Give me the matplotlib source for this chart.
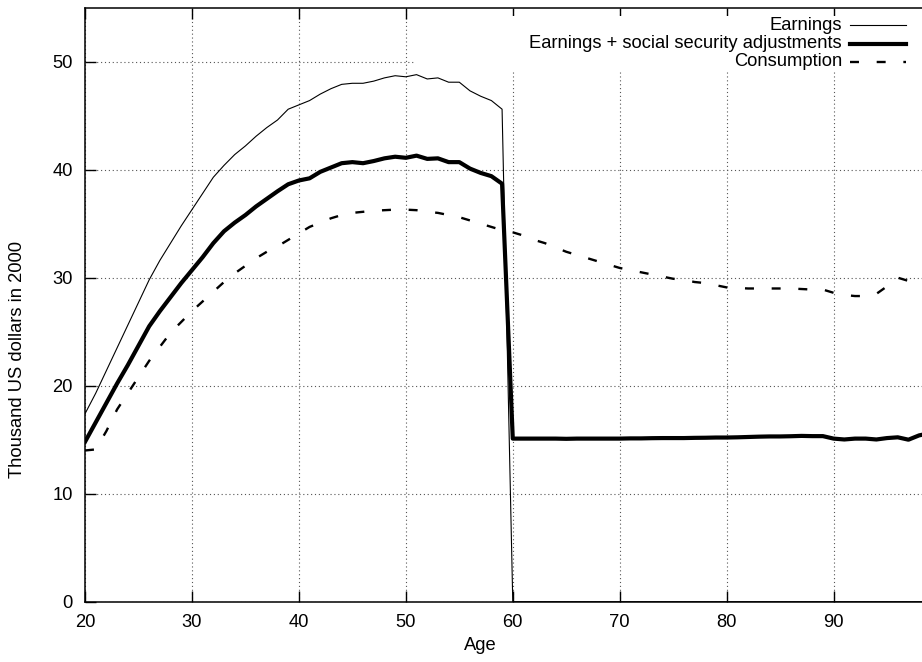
import matplotlib
matplotlib.use("Agg")
import matplotlib.pyplot as plt
from matplotlib.lines import Line2D
from matplotlib.patches import Rectangle

plt.rcParams['font.family'] = ['Liberation Sans', 'DejaVu Sans']

# Data (thousand US dollars in 2000)
ages = list(range(20, 100))

earnings = [17.4, 19.3, 21.4, 23.5, 25.6, 27.7, 29.8, 31.6, 33.2, 34.8,
            36.3, 37.8, 39.3, 40.4, 41.4, 42.2, 43.1, 43.9, 44.6, 45.6,
            46.0, 46.4, 47.0, 47.5, 47.9, 48.0, 48.0, 48.2, 48.5, 48.7,
            48.6, 48.8, 48.4, 48.5, 48.1, 48.1, 47.3, 46.8, 46.4, 45.6] + [0.0] * 40

earnings_ss = [14.8, 16.6, 18.4, 20.2, 21.9, 23.7, 25.5, 26.9, 28.2, 29.5,
               30.7, 31.9, 33.2, 34.3, 35.1, 35.8, 36.6, 37.3, 38.0, 38.65,
               39.0, 39.2, 39.8, 40.2, 40.6, 40.7, 40.6, 40.8, 41.05, 41.2,
               41.1, 41.3, 41.0, 41.05, 40.7, 40.7, 40.1, 39.7, 39.4, 38.7,
               15.1, 15.1, 15.1, 15.1, 15.1, 15.08, 15.1, 15.1, 15.1, 15.1,
               15.1, 15.12, 15.12, 15.14, 15.15, 15.15, 15.15, 15.17, 15.18, 15.2,
               15.2, 15.22, 15.25, 15.28, 15.3, 15.3, 15.32, 15.35, 15.33, 15.33,
               15.1, 15.02, 15.1, 15.1, 15.02, 15.15, 15.22, 15.0, 15.4, 15.6]

consumption = [14.0, 14.1, 15.8, 17.8, 19.3, 20.8, 22.3, 23.6, 24.9, 25.9,
               26.9, 27.8, 28.7, 29.6, 30.4, 31.1, 31.8, 32.4, 32.9, 33.5,
               34.1, 34.7, 35.1, 35.5, 35.8, 36.0, 36.1, 36.2, 36.25, 36.3,
               36.3, 36.25, 36.1, 36.0, 35.8, 35.6, 35.3, 35.0, 34.7, 34.4,
               34.2, 33.9, 33.5, 33.2, 32.8, 32.4, 32.1, 31.8, 31.5, 31.2,
               30.9, 30.7, 30.5, 30.3, 30.1, 29.9, 29.8, 29.6, 29.5, 29.3,
               29.1, 29.05, 29.0, 29.0, 29.0, 29.0, 29.0, 28.95, 28.9, 28.9,
               28.6, 28.4, 28.3, 28.3, 28.5, 29.2, 30.0, 29.7, 29.3, 29.0]

labels = ["Earnings", "Earnings + social security adjustments", "Consumption"]

dash = (0, (3.8, 7.5))
styles = [dict(lw=0.8, ls='-'), dict(lw=3.0, ls='-'), dict(lw=1.7, ls=dash)]

fig = plt.figure(figsize=(9.22, 6.62), dpi=100)
# plot area runs past the right edge of the picture, as in the reference
ax = fig.add_axes([0.0922, 0.0911, 0.9279, 0.8973])

ax.set_xlim(20, 100)
ax.set_ylim(0, 55)
ax.set_xticks(range(20, 91, 10))
ax.set_yticks(range(0, 51, 10))
ax.tick_params(direction='in', length=8, width=1, top=True, right=False,
               labelsize=13.2, pad=9)
for side in ['left', 'bottom', 'top']:
    ax.spines[side].set_linewidth(1.1)
ax.spines['right'].set_visible(False)

ax.set_axisbelow(True)
ax.grid(True, color='#555555', linestyle=(0, (1, 2.5)), linewidth=0.8)

# blank area behind the key, like gnuplot does
ax.add_patch(Rectangle((50.9, 49.05), 60, 5.2, facecolor='white',
                       edgecolor='none', zorder=1))

for series, st in zip([earnings, earnings_ss, consumption], styles):
    ax.plot(ages, series, color='black', lw=st['lw'], linestyle=st['ls'],
            zorder=3, solid_joinstyle='round')

# key, text right aligned with the sample on its right
key_y = [25, 43.5, 62]
for lab, st, ypx in zip(labels, styles, key_y):
    yf = 1 - ypx / 662
    fig.text(842 / 922, yf, lab, ha='right', va='center', fontsize=13.2)
    fig.add_artist(Line2D([850 / 922, 906 / 922], [yf, yf], color='black',
                          lw=st['lw'], linestyle=st['ls']))

fig.text(480 / 922, 1 - 645 / 662, "Age", ha='center', va='center', fontsize=13.2)
fig.text(18 / 922, 1 - 360 / 662, "Thousand US dollars in 2000", ha='center',
         va='center', rotation=90, fontsize=13.2)

fig.savefig("out.png", dpi=100)
